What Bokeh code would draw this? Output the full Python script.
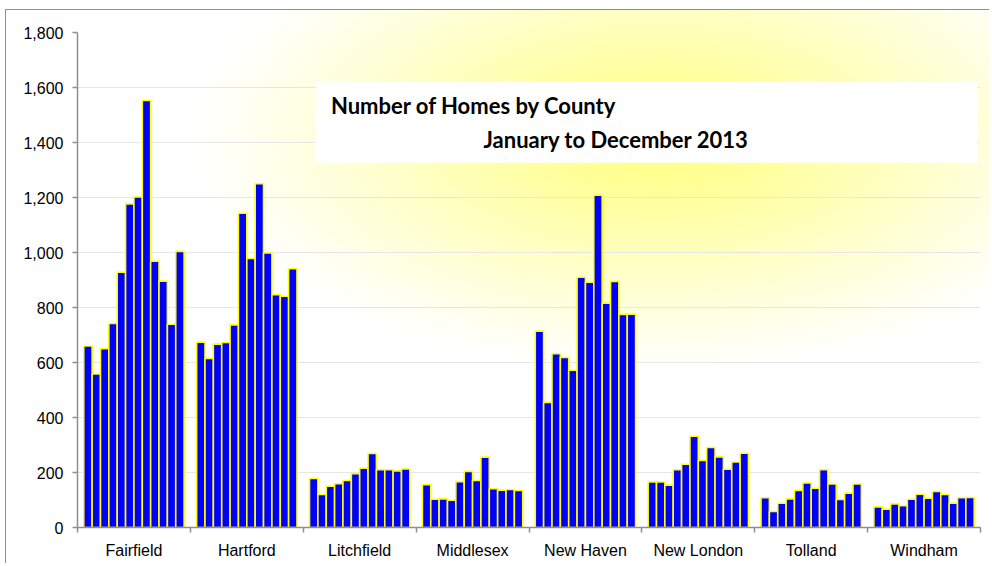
from bokeh.plotting import figure
from bokeh.models import FixedTicker, NumeralTickFormatter, BoxAnnotation, Label, ColumnDataSource, Range1d
from bokeh.embed import file_html
from bokeh.resources import INLINE

counties = ["Fairfield", "Hartford", "Litchfield", "Middlesex",
            "New Haven", "New London", "Tolland", "Windham"]
months = ["Jan", "Feb", "Mar", "Apr", "May", "Jun",
          "Jul", "Aug", "Sep", "Oct", "Nov", "Dec"]

fairfield = [660, 558, 650, 742, 928, 1177, 1202, 1553, 968, 896, 739, 1004]
hartford = [674, 615, 667, 673, 737, 1143, 978, 1250, 998, 847, 841, 941]
litchfield = [178, 120, 150, 159, 171, 196, 216, 269, 210, 210, 206, 213]
middlesex = [156, 103, 104, 99, 167, 204, 171, 256, 141, 136, 138, 135]
new_haven = [714, 455, 632, 618, 572, 910, 892, 1208, 816, 895, 775, 776]
new_london = [166, 166, 154, 210, 230, 332, 244, 291, 257, 212, 238, 270]
tolland = [108, 58, 88, 104, 135, 162, 143, 210, 158, 102, 125, 158]
windham = [75, 67, 86, 79, 103, 121, 107, 131, 120, 88, 108, 109]

series = [fairfield, hartford, litchfield, middlesex,
          new_haven, new_london, tolland, windham]

y_ticks = list(range(0, 1801, 200))
title_line1 = "Number of Homes by County"
title_line2 = "January to December 2013"

# layout of bars inside each category (Excel-like gap width 150%)
gap = 1.5
slots = len(months) + gap
bar_w = 1.0 / slots

xs, tops, names, mons = [], [], [], []
for ci, vals in enumerate(series):
    for mi, v in enumerate(vals):
        xs.append(ci + (gap / 2 + mi + 0.5) / slots)
        tops.append(v)
        names.append(counties[ci])
        mons.append(months[mi])

src = ColumnDataSource(dict(x=xs, top=tops, county=names, month=mons))

p = figure(width=984, height=554, output_backend="svg", toolbar_location=None,
           x_range=Range1d(0, len(counties)), y_range=Range1d(0, 1800),
           min_border_left=71, min_border_right=10, min_border_top=22, min_border_bottom=37)

p.styles = {
    "margin-left": "5px",
    "margin-top": "9px",
    "background": "radial-gradient(ellipse 470px 235px at 652px 128px, #ffff80 0%, #ffff98 22%, #ffffb8 45%, #ffffd8 68%, #fffff0 86%, #ffffff 100%)",
    "border-top": "1px solid #8e8e8e",
    "border-left": "1px solid #8e8e8e",
}
p.border_fill_color = None
p.background_fill_color = None
p.outline_line_color = None

p.vbar(x="x", top="top", width=bar_w, bottom=0, source=src,
       fill_color="#0000ff", line_color="#ffff00", line_width=1.6)

# title box
p.add_layout(BoxAnnotation(left=2.109, right=7.973, bottom=1326, top=1621,
                           fill_color="white", fill_alpha=1.0, line_color=None))
p.add_layout(Label(x=2.245, y=1535, text=title_line1, text_font="Lato", text_font_style="bold",
                   text_font_size="22px", text_baseline="middle", text_color="#000000"))
p.add_layout(Label(x=3.597, y=1412, text=title_line2, text_font="Lato", text_font_style="bold",
                   text_font_size="22px", text_baseline="middle", text_color="#000000"))

# x axis
centers = [i + 0.5 for i in range(len(counties))]
p.xaxis.ticker = FixedTicker(ticks=centers, minor_ticks=list(range(len(counties) + 1)))
p.xaxis.major_label_overrides = {c: n for c, n in zip(centers, counties)}
p.xaxis.major_tick_line_color = None
p.xaxis.major_tick_out = 0
p.xaxis.major_tick_in = 0
p.xaxis.minor_tick_out = 5
p.xaxis.minor_tick_in = 0
p.xaxis.minor_tick_line_color = "#8e8e8e"
p.xaxis.minor_tick_line_width = 1.5
p.xaxis.axis_line_color = "#8e8e8e"
p.xaxis.axis_line_width = 1.5
p.xaxis.major_label_standoff = 9
p.xaxis.major_label_text_font = "Liberation Sans"
p.xaxis.major_label_text_font_size = "16px"
p.xaxis.major_label_text_color = "#000000"

# y axis
p.yaxis.ticker = FixedTicker(ticks=y_ticks)
p.yaxis.formatter = NumeralTickFormatter(format="0,0")
p.yaxis.major_tick_out = 5
p.yaxis.major_tick_in = 0
p.yaxis.minor_tick_line_color = None
p.yaxis.major_tick_line_color = "#8e8e8e"
p.yaxis.major_tick_line_width = 1.5
p.yaxis.axis_line_color = "#8e8e8e"
p.yaxis.axis_line_width = 1.5
p.yaxis.major_label_standoff = 9
p.yaxis.major_label_text_font = "Liberation Sans"
p.yaxis.major_label_text_font_size = "16px"
p.yaxis.major_label_text_color = "#000000"

p.xgrid.grid_line_color = None
p.ygrid.ticker = FixedTicker(ticks=y_ticks)
p.ygrid.grid_line_color = "#e6e6e6"
p.ygrid.grid_line_width = 1

open("out.html", "w").write(file_html(p, INLINE))
